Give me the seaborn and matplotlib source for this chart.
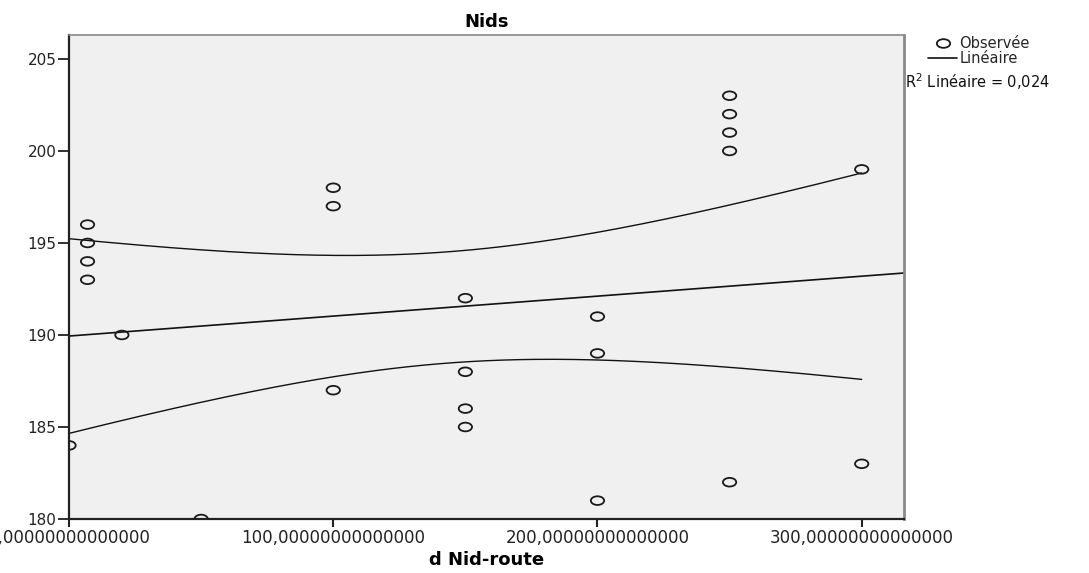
import numpy as np
import pandas as pd
import matplotlib
matplotlib.use("Agg")
import matplotlib.pyplot as plt
from matplotlib.path import Path
from matplotlib.lines import Line2D
import seaborn as sns

# Distance nest-road and observed values
dist = [0, 7, 7, 7, 7, 20, 50, 100, 100, 100, 150, 150, 150, 150,
        200, 200, 200, 250, 250, 250, 250, 250, 300, 300]
nids = [184, 196, 195, 194, 193, 190, 180, 198, 197, 187, 192, 188, 186, 185,
        191, 189, 181, 203, 202, 201, 200, 182, 199, 183]
x_ticks = [0, 100, 200, 300]
x_tick_labels = ["0,00000000000000", "100,00000000000000",
                 "200,00000000000000", "300,00000000000000"]
y_ticks = [180, 185, 190, 195, 200, 205]
r2_label = "R$^2$ Linéaire = 0,024"

df = pd.DataFrame({"d Nid-route": dist, "Nids": nids})

sns.set_theme(style="white")
plt.rcParams["font.family"] = ["DejaVu Sans"]

fig = plt.figure(figsize=(10.89, 5.73), dpi=100)
ax = fig.add_axes([0.0634, 0.0942, 0.7667, 0.8447])
ax.set_facecolor("#F0F0F0")
ax.set_xlim(0, 316)
ax.set_ylim(180, 206.3)

# Slightly flattened open circle marker
uc = Path.unit_circle()
oval = Path(uc.vertices * np.array([1.0, 0.65]), uc.codes)

sns.scatterplot(data=df, x="d Nid-route", y="Nids", ax=ax, marker=oval,
                s=92, facecolor="none", edgecolor="#1a1a1a", linewidth=1.3,
                zorder=3)
# Points sitting on the frame are cut by the plotting area
for coll in ax.collections:
    coll.set_clip_on(True)
    coll.set_clip_path(ax.patch)

# Linear fit extended across the axis
sns.regplot(data=df, x="d Nid-route", y="Nids", ax=ax, scatter=False,
            ci=None, truncate=False,
            line_kws=dict(color="#111111", lw=1.2, zorder=2))

# 95% confidence band for the mean prediction
x = np.asarray(dist, float)
y = np.asarray(nids, float)
n = len(x)
slope, intercept = np.polyfit(x, y, 1)
resid = y - (intercept + slope * x)
s = np.sqrt(np.sum(resid ** 2) / (n - 2))
sxx = np.sum((x - x.mean()) ** 2)
t975 = 2.0739  # Student t, 22 degrees of freedom
xg = np.linspace(x.min(), x.max(), 200)
fit = intercept + slope * xg
half = t975 * s * np.sqrt(1 / n + (xg - x.mean()) ** 2 / sxx)
ax.plot(xg, fit + half, color="#111111", lw=1.0, zorder=2)
ax.plot(xg, fit - half, color="#111111", lw=1.0, zorder=2)

# Axes styling
for side in ["left", "bottom"]:
    ax.spines[side].set_color("#222222")
    ax.spines[side].set_linewidth(1.6)
ax.spines["top"].set_color("#8a8a8a")
ax.spines["top"].set_linewidth(1.2)
ax.spines["right"].set_color("#8a8a8a")
ax.spines["right"].set_linewidth(2.0)

ax.set_xticks(x_ticks)
ax.set_xticklabels(x_tick_labels)
ax.set_yticks(y_ticks)
ax.tick_params(axis="x", direction="out", length=6, width=1.5, pad=1,
               labelsize=12, colors="#222222", bottom=True)
ax.tick_params(axis="y", direction="out", length=8, width=1.3, pad=1,
               labelsize=11, colors="#222222", left=True)

ax.set_xlabel("d Nid-route", fontsize=13, fontweight="bold", labelpad=3,
              color="black")
ax.set_ylabel("")
ax.set_title("Nids", fontsize=13, fontweight="bold", pad=6, color="black")

handles = [Line2D([], [], marker=oval, markersize=9.6, markerfacecolor="none",
                  markeredgecolor="#1a1a1a", markeredgewidth=1.3, ls="none"),
           Line2D([], [], color="#111111", lw=1.2)]
fig.legend(handles, ["Observée", "Linéaire"], loc="upper left",
           bbox_to_anchor=(0.847, 0.948), frameon=False, fontsize=10.5,
           handlelength=2.0, handletextpad=0.15, labelspacing=0.0,
           borderaxespad=0)
fig.text(0.831, 0.857, r2_label, fontsize=10.5, ha="left", va="center",
         color="#111111")

fig.savefig("out.png", dpi=100)
